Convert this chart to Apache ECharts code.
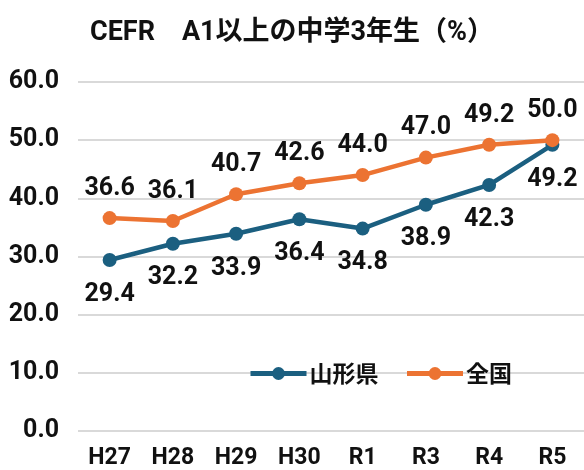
<!DOCTYPE html>
<html lang="ja">
<head>
    <meta charset="UTF-8">
    <title>CEFR A1以上の中学3年生</title>
    <script src="https://cdn.jsdelivr.net/npm/echarts@6/dist/echarts.min.js"></script>
    <style>
        html, body { margin: 0; padding: 0; background: #fff; }
    </style>
</head>
<body>
    <div id="chart" style="width: 584px;height: 470px;"></div>
</body>
<script type="text/javascript">
    // 年度
    var categories = ['H27', 'H28', 'H29', 'H30', 'R1', 'R3', 'R4', 'R5'];
    // 山形県
    var yamagata = [29.4, 32.2, 33.9, 36.4, 34.8, 38.9, 42.3, 49.2];
    // 全国
    var zenkoku = [36.6, 36.1, 40.7, 42.6, 44.0, 47.0, 49.2, 50.0];

    var FONT = 'Roboto, "Noto Sans CJK JP", sans-serif';
    var CJK = '"Noto Sans CJK JP", sans-serif';

    var chart = echarts.init(document.getElementById('chart'));

    var option = {
        animation: false,
        title: {
            text: 'CEFR　A1以上の中学3年生（%）',
            left: 'center',
            top: 15,
            textStyle: { fontFamily: FONT, fontSize: 27, fontWeight: 'bold', color: '#111' }
        },
        legend: {
            data: ['山形県', '全国'],
            left: 243,
            top: 357,
            itemWidth: 56,
            itemHeight: 16,
            itemGap: 26,
            lineStyle: { width: 5 },
            textStyle: { fontFamily: CJK, fontSize: 23, fontWeight: 'bold', color: '#111', padding: [0, 0, 0, -2] }
        },
        grid: {
            left: 78,
            top: 82,
            width: 508,
            height: 351
        },
        xAxis: {
            type: 'category',
            data: categories,
            axisLine: { show: false },
            axisTick: { show: false },
            axisLabel: { interval: 0, fontFamily: FONT, fontSize: 23, fontWeight: 'bold', color: '#111', margin: 16 }
        },
        yAxis: {
            type: 'value',
            min: 0,
            max: 60,
            interval: 10,
            axisLabel: {
                fontFamily: FONT, fontSize: 25, fontWeight: 'bold', color: '#111', margin: 19,
                formatter: function (v) { return v.toFixed(1); }
            },
            splitLine: { lineStyle: { color: '#d9d9d9', width: 2 } }
        },
        series: [
            {
                name: '山形県',
                type: 'line',
                data: yamagata,
                symbol: 'circle',
                symbolSize: 14,
                color: '#1b5f80',
                lineStyle: { width: 4.5 },
                label: {
                    show: true, position: 'bottom', distance: 15,
                    fontFamily: FONT, fontSize: 25, fontWeight: 'bold', color: '#111',
                    formatter: function (p) { return p.value.toFixed(1); }
                },
                z: 2
            },
            {
                name: '全国',
                type: 'line',
                data: zenkoku,
                symbol: 'circle',
                symbolSize: 14,
                color: '#ec7332',
                lineStyle: { width: 4.5 },
                label: {
                    show: true, position: 'top', distance: 10,
                    fontFamily: FONT, fontSize: 25, fontWeight: 'bold', color: '#111',
                    formatter: function (p) { return p.value.toFixed(1); }
                },
                z: 3
            }
        ]
    };

    chart.setOption(option);
</script>
</html>
